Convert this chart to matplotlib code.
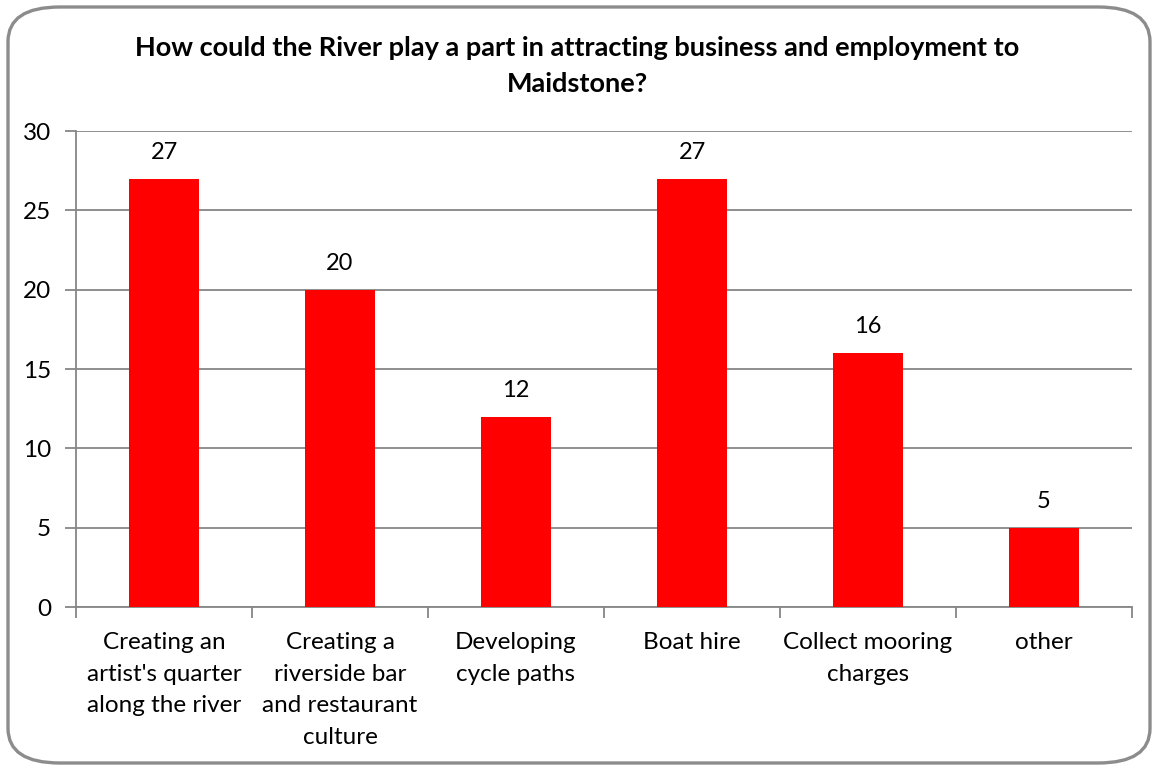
import matplotlib.pyplot as plt
from matplotlib.patches import FancyBboxPatch

categories = [
    "Creating an\nartist's quarter\nalong the river",
    "Creating a\nriverside bar\nand restaurant\nculture",
    "Developing\ncycle paths",
    "Boat hire",
    "Collect mooring\ncharges",
    "other",
]
counts = [27, 20, 12, 27, 16, 5]
y_ticks = [0, 5, 10, 15, 20, 25, 30]
title = "How could the River play a part in attracting business and employment to\nMaidstone?"

plt.rcParams['font.family'] = ['Lato', 'DejaVu Sans']
grid_color = '#868686'

fig = plt.figure(figsize=(11.55, 7.69), dpi=100)
ax = fig.add_axes([76 / 1155, 1 - 607 / 769, (1132 - 76) / 1155, (607 - 131) / 769])

# rounded chart frame
frame = FancyBboxPatch((8 / 1155, 6 / 769), 1142 / 1155, 756 / 769,
                       boxstyle="round,pad=0,rounding_size=0.045",
                       transform=fig.transFigure, facecolor='white',
                       edgecolor='#8c8c8c', linewidth=2.4, zorder=-10)
fig.patches.append(frame)

x = range(len(categories))
bars = ax.bar(x, counts, width=0.4, color='#ff0000', zorder=3)
for i, v in enumerate(counts):
    ax.text(i, v + 1.0, str(v), ha='center', va='bottom', fontsize=17)

ax.set_xlim(-0.5, len(categories) - 0.5)
ax.set_ylim(0, 30)
ax.set_yticks(y_ticks)
ax.yaxis.grid(True, color=grid_color, linewidth=1.3, zorder=0)
ax.set_axisbelow(True)

ax.set_xticks([i + 0.5 for i in range(-1, len(categories))], minor=True)
ax.set_xticks(list(x))
ax.set_xticklabels(categories, fontsize=17.5, linespacing=1.62)
ax.tick_params(axis='x', which='major', length=0, pad=18)
ax.tick_params(axis='x', which='minor', length=8, width=1.3, color=grid_color)
ax.tick_params(axis='y', length=8, width=1.3, color=grid_color, labelsize=17.5, pad=10)

for side in ['top', 'right']:
    ax.spines[side].set_visible(False)
for side in ['left', 'bottom']:
    ax.spines[side].set_color(grid_color)
    ax.spines[side].set_linewidth(1.3)
ax.patch.set_alpha(0)

fig.text(0.5, 1 - 66 / 769, title, ha='center', va='center', fontsize=19.5,
         fontweight='bold', linespacing=1.6)

fig.savefig('out.png', dpi=100)
